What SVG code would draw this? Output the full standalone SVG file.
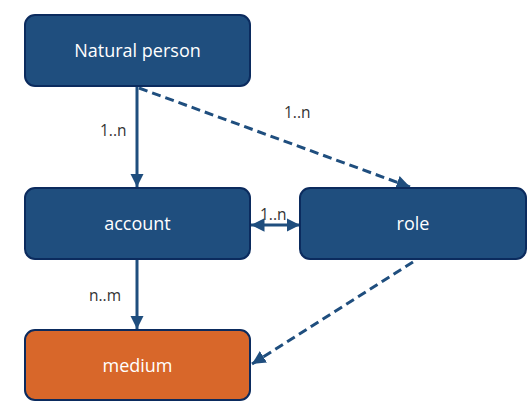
<svg xmlns="http://www.w3.org/2000/svg" width="528" height="403" viewBox="0 0 528 403">
<defs>
<style>
.box{stroke:#0B2B5E;stroke-width:2}
.blue{fill:#1F4E7E}
.orange{fill:#D8672A}
.lbl{font-family:"Open Sans","Liberation Sans",sans-serif;font-size:18px;fill:#FFFFFF;text-anchor:middle}
.card{font-family:"Open Sans","Liberation Sans",sans-serif;font-size:15.5px;fill:#333333}
.ln{stroke:#1F4E7E;stroke-width:3;fill:none}
.dash{stroke-dasharray:9 5}
</style>
<marker id="ah" viewBox="0 0 10 10" refX="10" refY="5" markerWidth="4.5" markerHeight="4.5" orient="auto-start-reverse" markerUnits="strokeWidth">
<path d="M0,0 L10,5 L0,10 Z" fill="#1F4E7E"/>
</marker>
</defs>
<g id="connectors">
<line class="ln" x1="137" y1="86" x2="137" y2="187" marker-end="url(#ah)"/>
<line class="ln dash" x1="139" y1="88" x2="410" y2="187" marker-end="url(#ah)"/>
<line class="ln" x1="251" y1="225" x2="300" y2="225" marker-start="url(#ah)" marker-end="url(#ah)"/>
<line class="ln" x1="137" y1="259" x2="137" y2="329" marker-end="url(#ah)"/>
<line class="ln dash" x1="413" y1="262" x2="252" y2="364" marker-end="url(#ah)"/>
<text class="card" x="100" y="136">1..n</text>
<text class="card" x="284" y="118">1..n</text>
<text class="card" x="260" y="220">1..n</text>
<text class="card" x="89" y="301">n..m</text>
</g>
<g id="natural-person">
<rect class="box blue" x="25" y="15" width="225" height="71" rx="10"/>
<text class="lbl" x="137.5" y="57">Natural person</text>
</g>
<g id="account">
<rect class="box blue" x="25" y="188" width="225" height="71" rx="10"/>
<text class="lbl" x="137.5" y="230">account</text>
</g>
<g id="role">
<rect class="box blue" x="300" y="188" width="226" height="71" rx="10"/>
<text class="lbl" x="413" y="230">role</text>
</g>
<g id="medium">
<rect class="box orange" x="25" y="330" width="225" height="70" rx="10"/>
<text class="lbl" x="137.5" y="372">medium</text>
</g>
</svg>
